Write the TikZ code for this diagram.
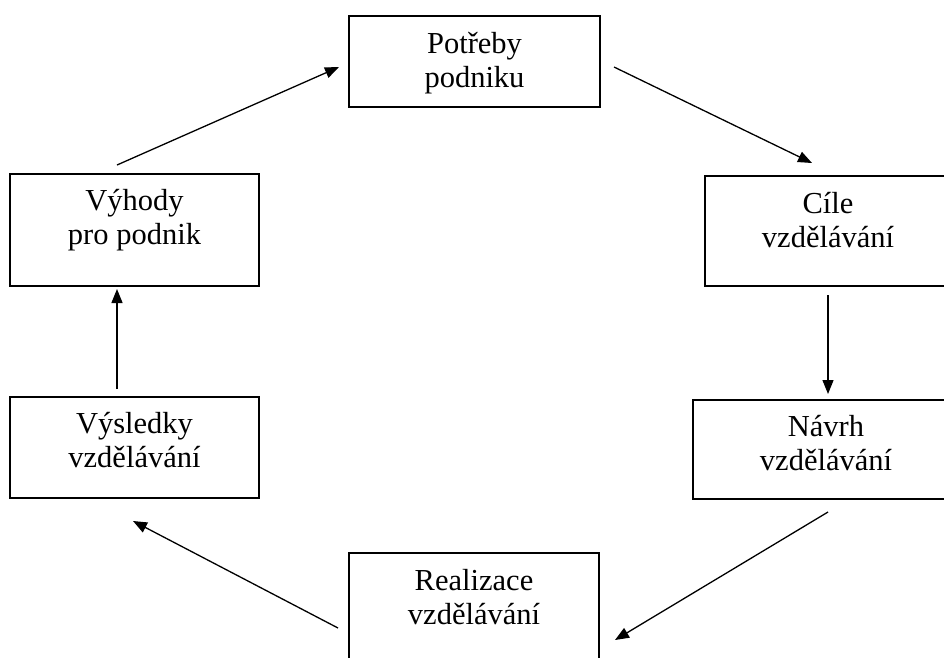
\documentclass[tikz,border=0pt]{standalone}
\usepackage{fontspec}
\setmainfont{Liberation Serif}
\usetikzlibrary{arrows.meta}

\tikzset{
  stage/.style={draw=black, line width=1.5pt, rectangle, inner sep=0pt},
  caption/.style={anchor=base, inner sep=0pt, font=\fontsize{30.5}{34}\selectfont},
  flow/.style={line width=1.3pt, -{Triangle[length=14pt, width=11pt]}},
}

% two-line label, baseline on its first line
\newcommand{\twolines}[2]{\begin{tabular}[t]{@{}c@{}}#1\\#2\end{tabular}}

\begin{document}
\begin{tikzpicture}[x=1pt, y=-1pt]
  \useasboundingbox (0,0) rectangle (944,657);
  \clip (0,0) rectangle (944,657);
  \fill[white] (0,0) rectangle (944,657);

  % stages of the training cycle
  \node[stage, minimum width=251pt, minimum height=91pt]  (potreby)   at (474.5, 61.5) {};
  \node[stage, minimum width=255pt, minimum height=110pt] (cile)      at (832.5, 231)  {};
  \node[stage, minimum width=268pt, minimum height=99pt]  (navrh)     at (827,   449.5){};
  \node[stage, minimum width=250pt, minimum height=147pt] (realizace) at (474,   626.5){};
  \node[stage, minimum width=249pt, minimum height=101pt] (vysledky)  at (134.5, 447.5){};
  \node[stage, minimum width=249pt, minimum height=112pt] (vyhody)    at (134.5, 230)  {};

  % labels
  \node[caption] (potreby-t)   at (474.5, 53)  {\twolines{Potřeby}{podniku}};
  \node[caption] (cile-t)      at (828,   213) {\twolines{Cíle}{vzdělávání}};
  \node[caption] (navrh-t)     at (826,   436) {\twolines{Návrh}{vzdělávání}};
  \node[caption] (realizace-t) at (474,   590) {\twolines{Realizace}{vzdělávání}};
  \node[caption] (vysledky-t)  at (134.5, 433) {\twolines{Výsledky}{vzdělávání}};
  \node[caption] (vyhody-t)    at (134.5, 210) {\twolines{Výhody}{pro podnik}};

  % arrow ends, set off from the boxes
  \coordinate (a1s) at (117, 165);  \coordinate (a1e) at (339, 67);
  \coordinate (a2s) at (614, 67);   \coordinate (a2e) at (812, 163);
  \coordinate (a3s) at (828, 295);  \coordinate (a3e) at (828, 394);
  \coordinate (a4s) at (828, 512);  \coordinate (a4e) at (615, 640);
  \coordinate (a5s) at (338, 628);  \coordinate (a5e) at (133, 521);
  \coordinate (a6s) at (117, 389);  \coordinate (a6e) at (117, 289);

  % cycle
  \draw[flow] (a1s) -- (a1e);
  \draw[flow] (a2s) -- (a2e);
  \draw[flow] (a3s) -- (a3e);
  \draw[flow] (a4s) -- (a4e);
  \draw[flow] (a5s) -- (a5e);
  \draw[flow] (a6s) -- (a6e);
\end{tikzpicture}
\end{document}
